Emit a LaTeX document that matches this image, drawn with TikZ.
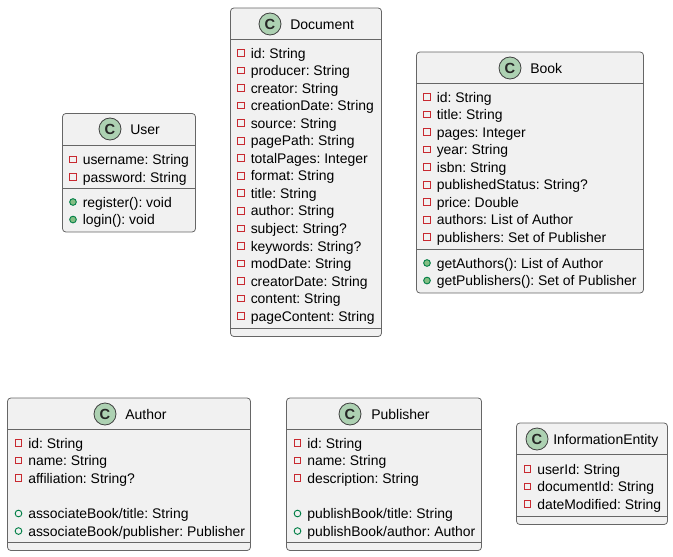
\documentclass[tikz,border=0pt]{standalone}
\usepackage{fontspec}
\setmainfont{Liberation Sans}
\frenchspacing

\definecolor{boxfill}{HTML}{F1F1F1}
\definecolor{boxline}{HTML}{666666}
\definecolor{spotfill}{HTML}{ADD1B2}
\definecolor{privline}{HTML}{C82930}
\definecolor{publine}{HTML}{038048}
\definecolor{pubfill}{HTML}{84BE84}

\tikzset{
  classbody/.style = {draw=boxline, fill=boxfill, line width=0.6pt, rounded corners=2.5pt},
  classrule/.style = {draw=boxline, line width=0.6pt},
  spot/.style = {circle, draw=black!75, fill=spotfill, line width=0.6pt, minimum size=16.5pt, inner sep=0pt, text=black!85, font=\fontsize{11}{11}\selectfont\bfseries},
  title/.style = {anchor=base west, inner sep=0pt, font=\fontsize{10.5}{12}\selectfont},
  member/.style = {anchor=base west, inner sep=0pt, font=\fontsize{10.45}{12}\selectfont},
  privmark/.style = {rectangle, draw=privline, line width=0.7pt, minimum size=5pt, inner sep=0pt},
  pubmark/.style = {circle, draw=publine, fill=pubfill, line width=0.7pt, minimum size=5pt, inner sep=0pt},
  openmark/.style = {circle, draw=publine, line width=0.7pt, minimum size=5pt, inner sep=0pt}
}

% name, mark style, mark x, first row y, list of members
\newcommand{\memberrows}[5]{
  \foreach \member [count=\i] in {#5} {
    \pgfmathsetmacro{\rowy}{#4 + 17.53*(\i-1)}
    \node [#2] (#1mark\i) at (#3, \rowy) {};
    \node [member] (#1text\i) at (#3+9.5, \rowy+5.2) {\member};
  }
}

\begin{document}
\begin{tikzpicture}[x=0.75pt, y=-0.75pt]
  \useasboundingbox (0, 0) rectangle (673, 556);

  % User
  \draw [classbody] (62.5, 113.5) rectangle (195.5, 232);
  \draw [classrule] (62.5, 145) -- (195.5, 145);
  \draw [classrule] (62.5, 188) -- (195.5, 188);
  \node [spot] (userspot) at (110, 129) {C};
  \node [title] (usertitle) at (130, 134.5) {User};
  \memberrows{userpriv}{privmark}{73}{159.5}{username: String, password: String}
  \memberrows{userpub}{pubmark}{73}{202}{register(): void, login(): void}

  % Document
  \draw [classbody] (230.5, 8) rectangle (381.5, 336.5);
  \draw [classrule] (230.5, 39.5) -- (381.5, 39.5);
  \draw [classrule] (230.5, 328) -- (381.5, 328);
  \node [spot] (docspot) at (270, 24) {C};
  \node [title] (doctitle) at (290, 29.5) {Document};
  \memberrows{doc}{privmark}{241}{53}{id: String, producer: String, creator: String, creationDate: String, source: String, pagePath: String, totalPages: Integer, format: String, title: String, author: String, subject: String?, keywords: String?, modDate: String, creatorDate: String, content: String, pageContent: String}

  % Book
  \draw [classbody] (416.5, 52) rectangle (643.5, 293);
  \draw [classrule] (416.5, 83.5) -- (643.5, 83.5);
  \draw [classrule] (416.5, 249) -- (643.5, 249);
  \node [spot] (bookspot) at (510, 68) {C};
  \node [title] (booktitle) at (530, 73.5) {Book};
  \memberrows{bookpriv}{privmark}{427}{97}{id: String, title: String, pages: Integer, year: String, isbn: String, publishedStatus: String?, price: Double, authors: List of Author, publishers: Set of Publisher}
  \memberrows{bookpub}{pubmark}{427}{263}{getAuthors(): List of Author, getPublishers(): Set of Publisher}

  % Author
  \draw [classbody] (7.5, 398) rectangle (250.5, 550.5);
  \draw [classrule] (7.5, 429.5) -- (250.5, 429.5);
  \draw [classrule] (7.5, 542) -- (250.5, 542);
  \node [spot] (authorspot) at (105, 414) {C};
  \node [title] (authortitle) at (125, 419.5) {Author};
  \memberrows{authorpriv}{privmark}{18.5}{443}{id: String, name: String, affiliation: String?}
  \memberrows{authorpub}{openmark}{18.5}{513.5}{associateBook/title: String, associateBook/publisher: Publisher}

  % Publisher
  \draw [classbody] (286.5, 398) rectangle (481.5, 550.5);
  \draw [classrule] (286.5, 429.5) -- (481.5, 429.5);
  \draw [classrule] (286.5, 542) -- (481.5, 542);
  \node [spot] (pubspot) at (350, 414) {C};
  \node [title] (pubtitle) at (371, 419.5) {Publisher};
  \memberrows{pubpriv}{privmark}{297.5}{443}{id: String, name: String, description: String}
  \memberrows{pubpub}{openmark}{297.5}{513.5}{publishBook/title: String, publishBook/author: Author}

  % InformationEntity
  \draw [classbody] (516.5, 423) rectangle (667.5, 524.5);
  \draw [classrule] (516.5, 454.5) -- (667.5, 454.5);
  \draw [classrule] (516.5, 516) -- (667.5, 516);
  \node [spot] (infospot) at (537, 439) {C};
  \node [title] (infotitle) at (553, 444.5) {InformationEntity};
  \memberrows{info}{privmark}{527.5}{469}{userId: String, documentId: String, dateModified: String}
\end{tikzpicture}
\end{document}
